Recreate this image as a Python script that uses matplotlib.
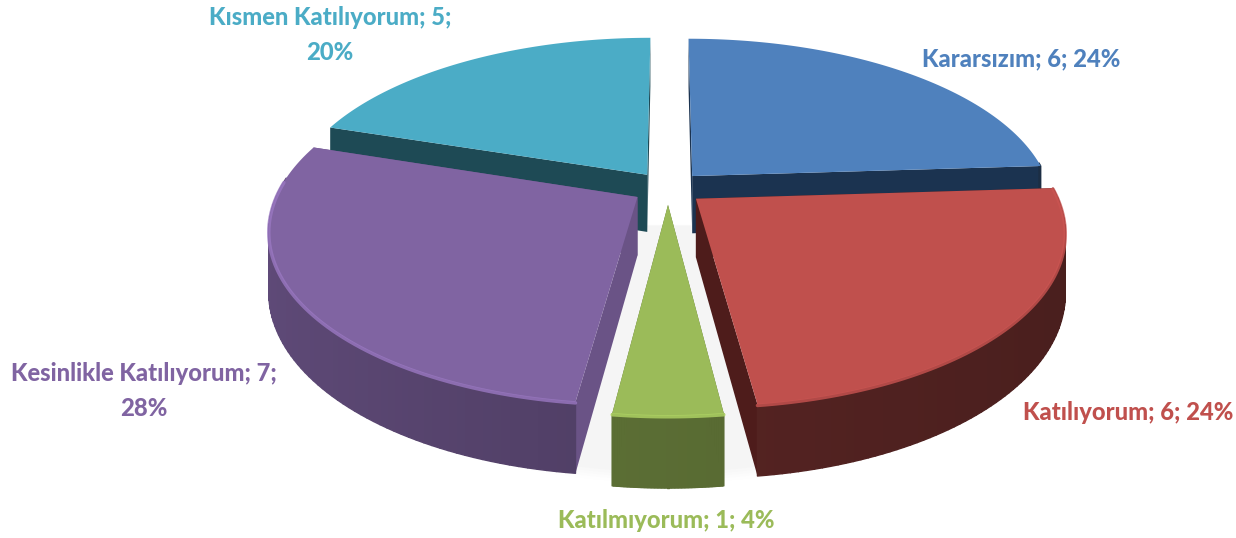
import numpy as np
import matplotlib
matplotlib.use("Agg")
import matplotlib.pyplot as plt
from matplotlib.colors import to_rgb

categories = ["Kararsızım", "Katılıyorum", "Katılmıyorum", "Kesinlikle Katılıyorum", "Kısmen Katılıyorum"]
values = [6, 6, 1, 7, 5]
percents = ["24%", "24%", "4%", "28%", "20%"]
colors = ["#4F81BD", "#C0504D", "#9BBB59", "#8064A2", "#4BACC6"]
side_colors = ["#1B3350", "#4E1C1B", "#566A2E", "#6A5386", "#1E4A55"]

# projection of the pie plane to pixels
cx, cy = 668, 188
A, B, k = 358, 166, 0.18
H = 58
explode = 0.1


def project(u, v, z=0.0):
    w = 1 + k * v
    return cx + A * u / w, cy - B * v / w + H * z / w


def shade(c, f):
    return tuple(min(1, x * f) for x in to_rgb(c))


fig = plt.figure(figsize=(12.36, 5.38), dpi=100)
ax = fig.add_axes([0, 0, 1, 1])
ax.set_xlim(0, 1236)
ax.set_ylim(538, 0)
ax.axis("off")

total = sum(values)
angles = np.cumsum([0] + values) / total * 2 * np.pi

# soft shadow under the front of the pie
th = np.linspace(np.pi * 0.45, np.pi * 1.55, 120)
for grow, a in zip([1.05, 1.04, 1.03, 1.02, 1.01], [0.008, 0.01, 0.012, 0.015, 0.02]):
    sx, sy = project(grow * np.sin(th), grow * np.cos(th), 1.12)
    ax.fill(sx, sy, color="#808080", alpha=a, lw=0, zorder=1)

# back to front
order = [4, 0, 3, 1, 2]
wall_base = [0.42, 0.44, 0.58, 0.62, 0.42]
rim_light = [0, 1.05, 1.15, 1.2, 0]
for n, i in enumerate(order):
    z0 = 2 + n
    t = np.linspace(angles[i], angles[i + 1], 80)
    mid = (angles[i] + angles[i + 1]) / 2
    ou, ov = explode * np.sin(mid), explode * np.cos(mid)
    u = ou + np.sin(t)
    v = ov + np.cos(t)

    # straight cut walls
    for e in (t[0], t[-1]):
        eu, ev = ou + np.sin(e), ov + np.cos(e)
        x0, y0 = project(ou, ov)
        x1, y1 = project(eu, ev)
        x2, y2 = project(eu, ev, 1)
        x3, y3 = project(ou, ov, 1)
        ax.fill([x0, x1, x2, x3], [y0, y1, y2, y3], color=side_colors[i], lw=0, zorder=z0)

    # curved outer wall, cut in strips for the shading
    for j in range(len(t) - 1):
        # the back part is hidden by the top face anyway
        if np.cos(t[j]) > 0.1:
            continue
        xa, ya = project(u[j], v[j])
        xb, yb = project(u[j + 1], v[j + 1])
        xc, yc = project(u[j + 1], v[j + 1], 1)
        xd, yd = project(u[j], v[j], 1)
        f = wall_base[i] + 0.12 * (-np.sin(t[j])) * (1 if i == 3 else 0.5)
        ax.fill([xa, xb, xc, xd], [ya, yb, yc, yd], color=shade(colors[i], f), lw=1.0, joinstyle="round", zorder=z0 + 0.1)

    # top face
    x, y = project(np.r_[ou, u], np.r_[ov, v])
    ax.fill(x, y, color=colors[i], lw=0, zorder=z0 + 0.2)
    # lit rim on the front edge
    front = np.cos(t) < 0.1
    if rim_light[i] and front.any():
        rx, ry = project(u[front], v[front], 0.015)
        ax.plot(rx, ry, color=shade(colors[i], rim_light[i]), lw=2.5, alpha=0.8, zorder=z0 + 0.3, solid_capstyle="round")

font = dict(family="Lato", fontweight=900, fontsize=17.1, ha="center", va="center", linespacing=1.62, zorder=20)
ax.text(1021, 59, f"{categories[0]}; {values[0]}; {percents[0]}", color=colors[0], **font)
ax.text(1128, 413, f"{categories[1]}; {values[1]}; {percents[1]}", color=colors[1], **font)
ax.text(666, 521, f"{categories[2]}; {values[2]}; {percents[2]}", color=colors[2], **font)
ax.text(144, 391, f"{categories[3]}; {values[3]};\n{percents[3]}", color=colors[3], **font)
ax.text(330, 35, f"{categories[4]}; {values[4]};\n{percents[4]}", color=colors[4], **font)

fig.savefig("out.png", dpi=100)
